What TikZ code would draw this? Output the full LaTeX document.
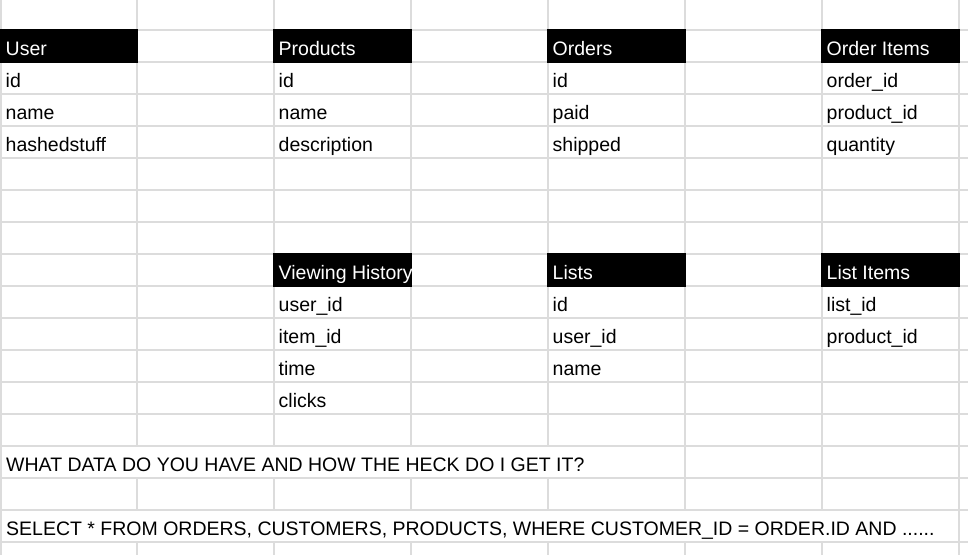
\documentclass[tikz,border=0pt]{standalone}
\usepackage{fontspec}
\setmainfont{Liberation Sans}
\definecolor{gridc}{HTML}{DCDCDC}
\begin{document}
\begin{tikzpicture}[x=1pt,y=-1pt,
  cell/.style={anchor=base west, inner sep=0pt, font=\fontsize{19.5}{22}\selectfont, text=black},
  head/.style={cell, text=white},
  gridline/.style={draw=gridc, line width=2pt},
  headbg/.style={fill=black}]
\useasboundingbox (0,0) rectangle (968,555);
\fill[white] (0,0) rectangle (968,555);
% grid
\foreach \x in {1,137,274,411,548,685,822,959} \draw[gridline] (\x,0) -- (\x,555);
\foreach \k in {0,...,16} \draw[gridline] (0,30+32*\k) -- (968,30+32*\k);
% overflow rows hide interior lines
\fill[white] (2,447) rectangle (684,477);
\fill[white] (2,511) rectangle (958,541);
% header backgrounds
\fill[headbg] (0,29) rectangle (137.5,63);
\fill[headbg] (273,29) rectangle (411.5,63);
\fill[headbg] (547,29) rectangle (685.5,63);
\fill[headbg] (821,29) rectangle (959.5,63);
\fill[headbg] (273,253) rectangle (411.5,287);
\fill[headbg] (547,253) rectangle (685.5,287);
\fill[headbg] (821,253) rectangle (959.5,287);
% User
\node[head] (userH) at (5.5,55) {User};
\node[cell] (userA) at (5.5,87) {id};
\node[cell] (userB) at (5.5,119) {name};
\node[cell] (userC) at (5.5,151) {hashedstuff};
% Products
\node[head] (prodH) at (278.5,55) {Products};
\node[cell] (prodA) at (278.5,87) {id};
\node[cell] (prodB) at (278.5,119) {name};
\node[cell] (prodC) at (278.5,151) {description};
% Orders
\node[head] (ordH) at (552.5,55) {Orders};
\node[cell] (ordA) at (552.5,87) {id};
\node[cell] (ordB) at (552.5,119) {paid};
\node[cell] (ordC) at (552.5,151) {shipped};
% Order Items
\node[head] (oiH) at (826.5,55) {Order Items};
\node[cell] (oiA) at (826.5,87) {order\_id};
\node[cell] (oiB) at (826.5,119) {product\_id};
\node[cell] (oiC) at (826.5,151) {quantity};
% Viewing History
\begin{scope}
\clip (273,253) rectangle (411,287);
\node[head] (vhH) at (278.5,279) {Viewing History};
\end{scope}
\node[cell] (vhA) at (278.5,311) {user\_id};
\node[cell] (vhB) at (278.5,343) {item\_id};
\node[cell] (vhC) at (278.5,375) {time};
\node[cell] (vhD) at (278.5,407) {clicks};
% Lists
\node[head] (lH) at (552.5,279) {Lists};
\node[cell] (lA) at (552.5,311) {id};
\node[cell] (lB) at (552.5,343) {user\_id};
\node[cell] (lC) at (552.5,375) {name};
% List Items
\node[head] (liH) at (826.5,279) {List Items};
\node[cell] (liA) at (826.5,311) {list\_id};
\node[cell] (liB) at (826.5,343) {product\_id};
% notes
\node[cell] (q) at (6,471) {WHAT DATA DO YOU HAVE AND HOW THE HECK DO I GET IT?};
\node[cell] (sql) at (6,535) {SELECT * FROM ORDERS, CUSTOMERS, PRODUCTS, WHERE CUSTOMER\_ID = ORDER.ID AND ......};
\end{tikzpicture}
\end{document}
